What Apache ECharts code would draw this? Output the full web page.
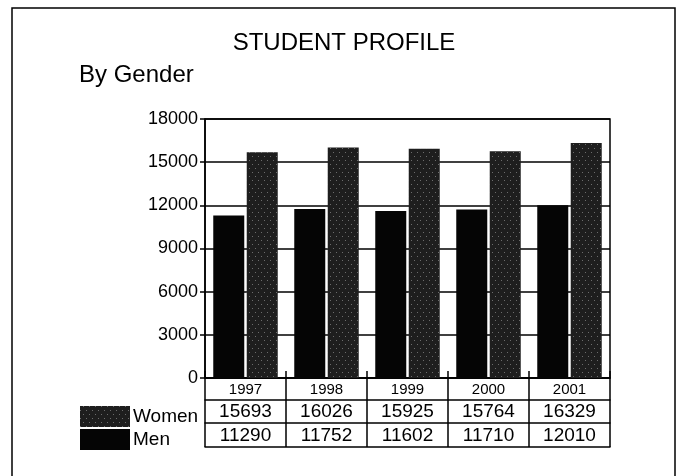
<!DOCTYPE html>
<html>
<head>
<meta charset="utf-8">
<script src="https://cdn.jsdelivr.net/npm/echarts@6/dist/echarts.min.js"></script>
<style>
html,body{margin:0;padding:0;background:#fff;}
#chart{width:688px;height:476px;}
</style>
</head>
<body>
<div id="chart"></div>
<script>
var years = ['1997', '1998', '1999', '2000', '2001'];
var women = [15693, 16026, 15925, 15764, 16329];
var men = [11290, 11752, 11602, 11710, 12010];
var yTicks = { min: 0, max: 18000, step: 3000 };

var FONT = '"Liberation Sans", Arial, sans-serif';
var INK = '#000';

// stipple texture for the women bars
var speckle = {
	symbol: 'rect',
	symbolSize: 1,
	dashArrayX: [[1, 5], [0, 3, 1, 2]],
	dashArrayY: [1, 3],
	color: 'rgba(255,255,255,0.35)'
};

// one category axis per table row, lines and ticks draw the cell borders
function rowAxis(data, offset, tickLen, fontSize, margin) {
	return {
		type: 'category',
		data: data,
		position: 'bottom',
		offset: offset,
		gridIndex: 0,
		axisLine: { show: true, lineStyle: { color: INK, width: 1.5 } },
		axisTick: { show: tickLen > 0, length: tickLen, interval: 0, lineStyle: { color: INK, width: 1.5 } },
		axisLabel: { show: fontSize > 0, fontSize: fontSize || 12, color: INK, fontFamily: FONT, margin: margin, interval: 0 },
		splitLine: { show: false }
	};
}

var option = {
	backgroundColor: '#fff',
	animation: false,
	title: {
		text: 'STUDENT PROFILE',
		left: 'center',
		top: 26,
		textStyle: { fontSize: 24, fontWeight: 'normal', color: INK, fontFamily: FONT }
	},
	graphic: [{
		type: 'rect',
		shape: { x: 12, y: 8, width: 663, height: 490 },
		style: { fill: 'none', stroke: INK, lineWidth: 1.5 }
	}, {
		type: 'text',
		left: 79,
		top: 63,
		style: { text: 'By Gender', fontSize: 24, fill: INK, fontFamily: FONT }
	}],
	legend: {
		data: ['Women', 'Men'],
		orient: 'vertical',
		left: 75,
		top: 401,
		itemWidth: 50,
		itemHeight: 21,
		itemGap: 2,
		icon: 'rect',
		textStyle: { fontSize: 19, color: INK, fontFamily: FONT, padding: [0, 0, 0, -2] }
	},
	grid: {
		left: 205,
		right: 78,
		top: 119,
		bottom: 98,
		show: true,
		borderColor: INK,
		borderWidth: 1.5
	},
	xAxis: [
		rowAxis(years, 0, 22, 15, 4),
		{
			type: 'category',
			data: years,
			position: 'bottom',
			offset: 0,
			axisLine: { show: false },
			axisTick: { show: true, inside: true, length: 7, interval: 0, lineStyle: { color: INK, width: 1.5 } },
			axisLabel: { show: false }
		},
		rowAxis(women.map(String), 22, 23, 19, 2),
		rowAxis(men.map(String), 45, 24, 19, 3),
		rowAxis(years, 69, 0, 0, 0)
	],
	yAxis: {
		type: 'value',
		min: yTicks.min,
		max: yTicks.max,
		interval: yTicks.step,
		axisLine: { show: true, lineStyle: { color: INK, width: 1.5 } },
		axisTick: { show: true, length: 5, lineStyle: { color: INK, width: 1.5 } },
		axisLabel: { fontSize: 18, color: INK, fontFamily: FONT, margin: 7, formatter: function (v) { return String(v); } },
		splitLine: { show: true, lineStyle: { color: INK, width: 1.5 } }
	},
	series: [{
		name: 'Men',
		type: 'bar',
		xAxisIndex: 0,
		data: men,
		barWidth: 31,
		barGap: '8%',
		itemStyle: { color: '#050505' }
	}, {
		name: 'Women',
		type: 'bar',
		xAxisIndex: 0,
		data: women,
		barWidth: 31,
		itemStyle: { color: '#1e1e1e', decal: speckle }
	}]
};

var myChart = echarts.init(document.getElementById('chart'));
myChart.setOption(option);
</script>
</body>
</html>
